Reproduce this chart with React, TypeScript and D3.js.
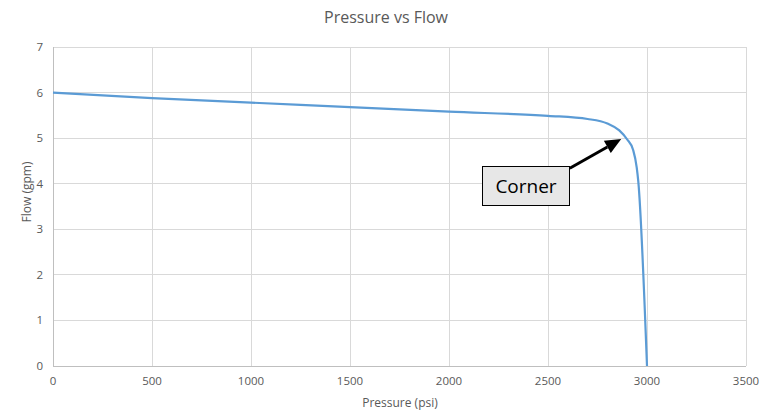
import React from "react";
import * as d3 from "d3";

const pressure = [0, 500, 1000, 1500, 2000, 2500, 2700, 2800, 2860, 2900, 2930, 2948, 2956, 3000];
const flow = [6.0, 5.88, 5.78, 5.68, 5.58, 5.49, 5.42, 5.32, 5.17, 4.97, 4.74, 4.36, 4.05, 0];
const xTicks = [0, 500, 1000, 1500, 2000, 2500, 3000, 3500];
const yTicks = [0, 1, 2, 3, 4, 5, 6, 7];
const title = "Pressure vs Flow";
const xTitle = "Pressure (psi)";
const yTitle = "Flow (gpm)";
const annotation = { text: "Corner", from: [2610, 4.34], to: [2870, 4.98] };

const W = 771, H = 417;
const M = { left: 53, right: 25, top: 47, bottom: 51 };
const FONT = "'Open Sans', 'Liberation Sans', sans-serif";

export default function App() {
  const x = d3.scaleLinear().domain([0, 3500]).range([M.left, W - M.right]);
  const y = d3.scaleLinear().domain([0, 7]).range([H - M.bottom, M.top]);
  const pts: [number, number][] = pressure.map((p, i) => [p, flow[i]]);
  const line = d3.line<[number, number]>()
    .x(d => x(d[0]))
    .y(d => y(d[1]))
    .curve(d3.curveMonotoneX);

  const ax1 = x(annotation.from[0]), ay1 = y(annotation.from[1]);
  const ax2 = x(annotation.to[0]), ay2 = y(annotation.to[1]);
  const ang = Math.atan2(ay2 - ay1, ax2 - ax1);
  const headLen = 16, headW = 7;
  const bx = ax2 - headLen * Math.cos(ang), by = ay2 - headLen * Math.sin(ang);
  const px = -Math.sin(ang), py = Math.cos(ang);
  const head = `M${ax2},${ay2}L${bx + px * headW},${by + py * headW}L${bx - px * headW},${by - py * headW}Z`;

  return (
    <svg width={W} height={H} style={{ position: "absolute", left: 0, top: 0, background: "#fff" }}>
      <rect width={W} height={H} fill="#fff" />
      <text x={386} y={23} textAnchor="middle" fontFamily={FONT} fontSize={16} fill="#595959">{title}</text>
      {yTicks.map(t => (
        <line key={"gy" + t} x1={M.left} x2={W - M.right} y1={y(t)} y2={y(t)}
          stroke={t === 0 ? "#bfbfbf" : "#d9d9d9"} strokeWidth={1} shapeRendering="crispEdges" />
      ))}
      {xTicks.map(t => (
        <line key={"gx" + t} x1={x(t)} x2={x(t)} y1={M.top} y2={H - M.bottom}
          stroke={t === 0 ? "#bfbfbf" : "#d9d9d9"} strokeWidth={1} shapeRendering="crispEdges" />
      ))}
      {yTicks.map(t => (
        <text key={"ly" + t} x={43} y={y(t) + 4} textAnchor="end" fontFamily={FONT} fontSize={11.5} fill="#595959">{t}</text>
      ))}
      {xTicks.map(t => (
        <text key={"lx" + t} x={x(t)} y={385} textAnchor="middle" fontFamily={FONT} fontSize={11.5} fill="#595959">{t}</text>
      ))}
      <text x={400} y={407} textAnchor="middle" fontFamily={FONT} fontSize={12} fill="#595959">{xTitle}</text>
      <text transform={`translate(31,192) rotate(-90)`} textAnchor="middle" fontFamily={FONT} fontSize={12} fill="#595959">{yTitle}</text>
      <path d={line(pts) || ""} fill="none" stroke="#5b9bd5" strokeWidth={2.2} strokeLinejoin="round" />
      <line x1={ax1} y1={ay1} x2={bx} y2={by} stroke="#000" strokeWidth={3} />
      <path d={head} fill="#000" />
      <rect x={482.5} y={166.5} width={87} height={39} fill="#e7e7e7" stroke="#000" strokeWidth={1} />
      <text x={526} y={193} textAnchor="middle" fontFamily={FONT} fontSize={19} fill="#000">{annotation.text}</text>
    </svg>
  );
}
